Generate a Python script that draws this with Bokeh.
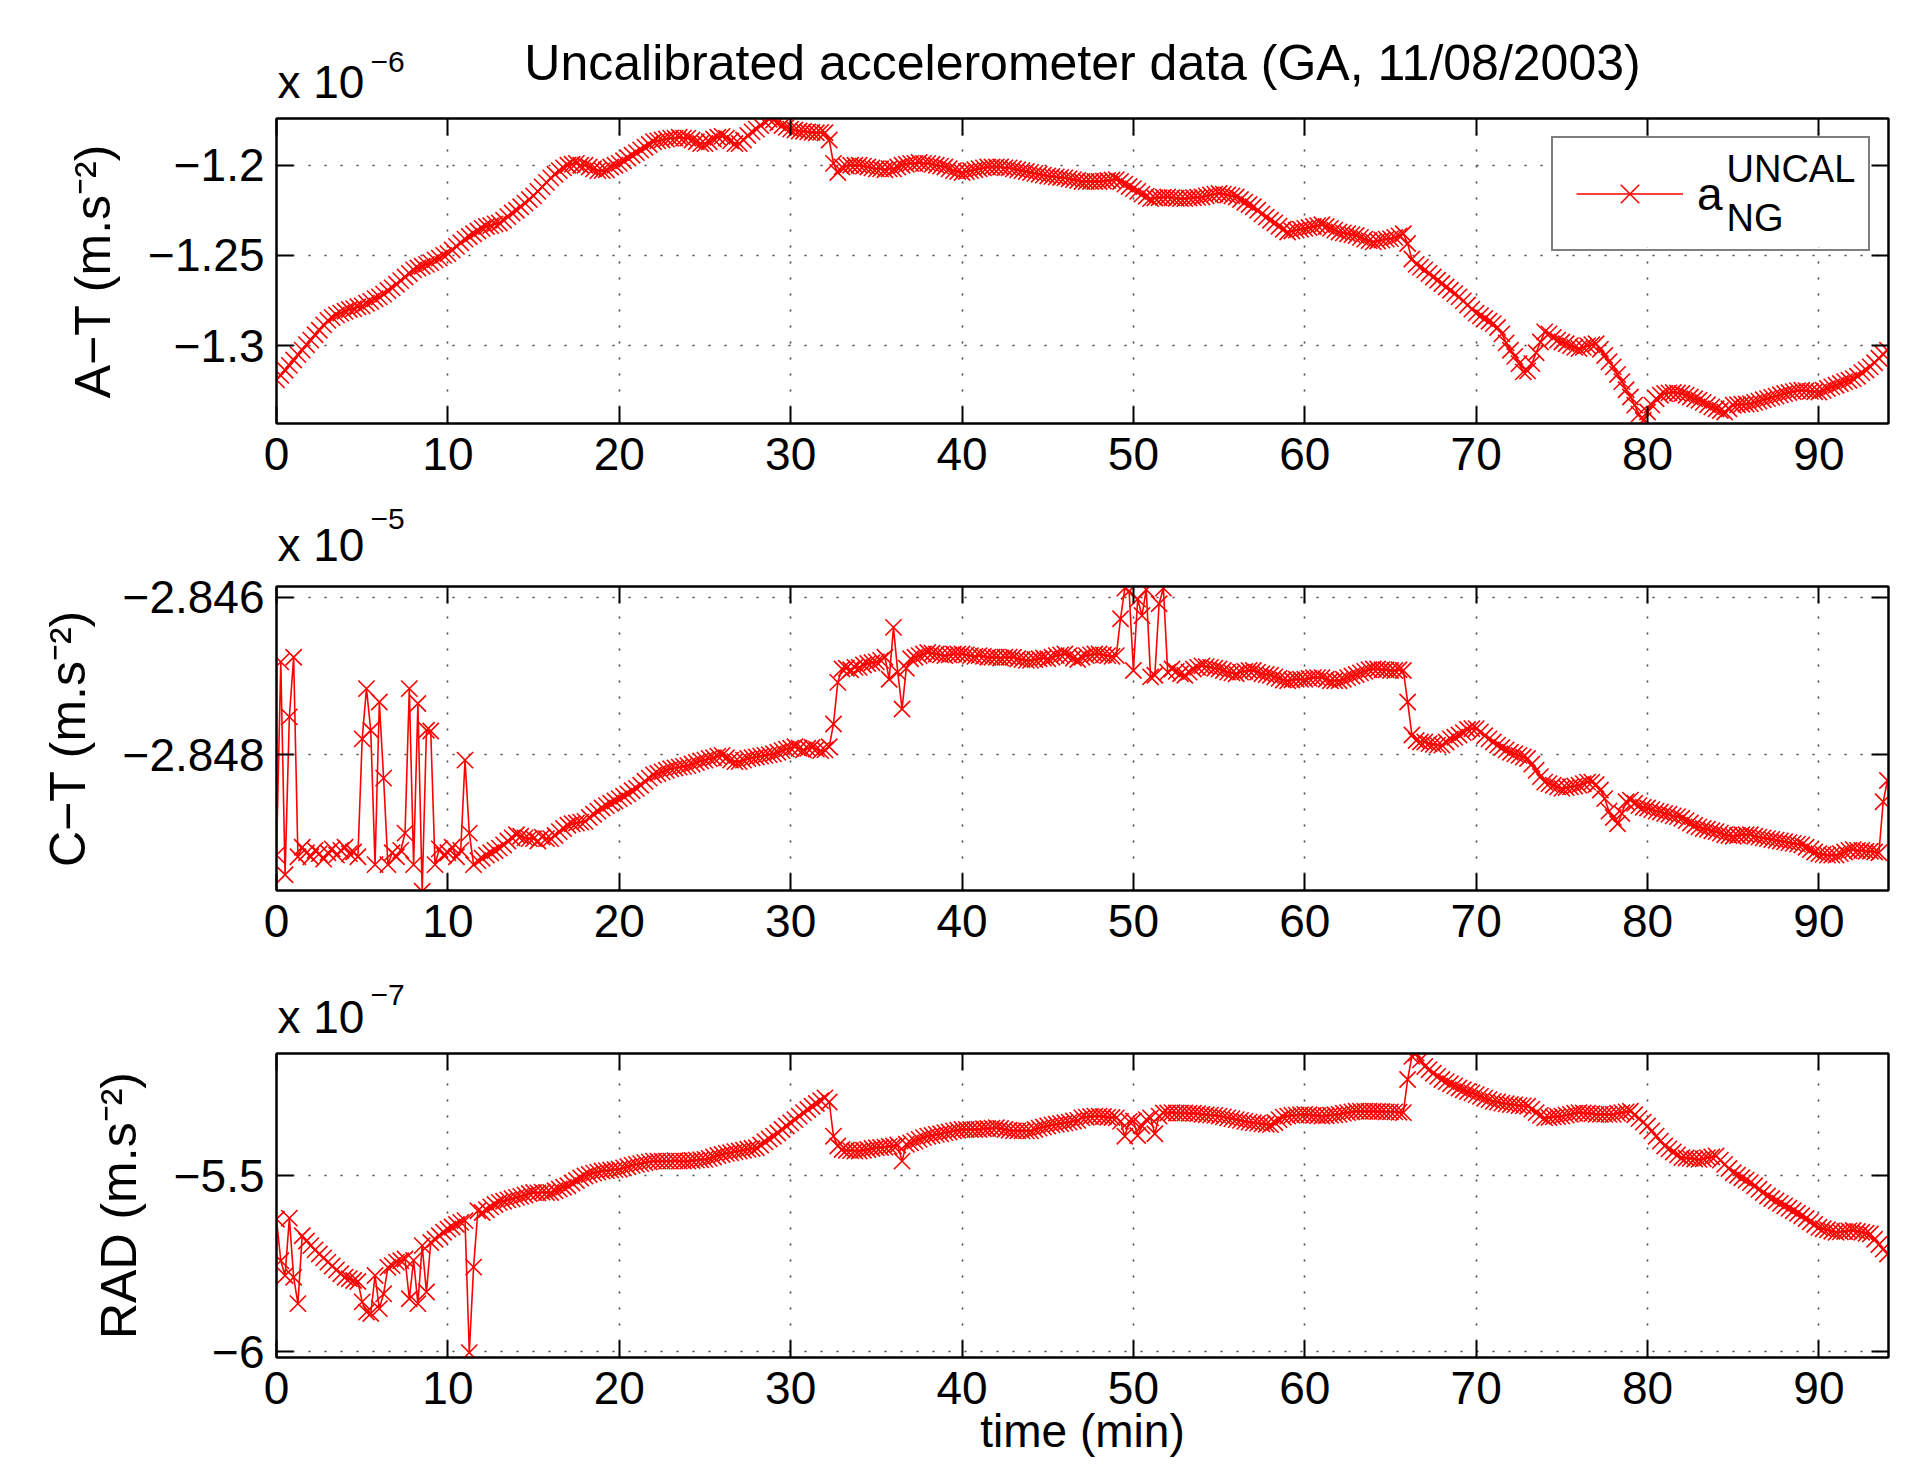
import numpy as np
from bokeh.plotting import figure
from bokeh.models import (Range1d, LinearAxis, FixedTicker, Legend, LegendItem,
                          CustomJSTickFormatter)
from bokeh.core.properties import value
from bokeh.layouts import column
from bokeh.embed import file_html
from bokeh.resources import INLINE

# ---------------- data ----------------
TITLE = "Uncalibrated accelerometer data (GA, 11/08/2003)"
STEP_MIN = 0.25          # sampling step of the series (minutes)
X_TICKS = [0, 10, 20, 30, 40, 50, 60, 70, 80, 90]
X_MAX = 94.06

# A-T, units of 1e-10 m/s^2, one row per minute (t = k, k+.25, k+.5, k+.75)
at_vals = [
    -13190, -13165, -13137, -13110,  # 0
    -13080, -13050, -13025, -12995,  # 1
    -12970, -12940, -12915, -12885,  # 2
    -12860, -12845, -12830, -12820,  # 3
    -12810, -12800, -12795, -12785,  # 4
    -12780, -12765, -12755, -12740,  # 5
    -12730, -12715, -12695, -12680,  # 6
    -12660, -12640, -12620, -12600,  # 7
    -12580, -12570, -12560, -12550,  # 8
    -12540, -12525, -12515, -12500,  # 9
    -12490, -12470, -12450, -12430,  # 10
    -12410, -12395, -12380, -12365,  # 11
    -12350, -12340, -12335, -12325,  # 12
    -12320, -12305, -12285, -12265,  # 13
    -12250, -12230, -12210, -12190,  # 14
    -12170, -12145, -12120, -12095,  # 15
    -12070, -12050, -12030, -12015,  # 16
    -12000, -11995, -11990, -12000,  # 17
    -12000, -12010, -12020, -12030,  # 18
    -12030, -12025, -12010, -12000,  # 19
    -11990, -11975, -11960, -11945,  # 20
    -11930, -11915, -11900, -11885,  # 21
    -11870, -11865, -11860, -11855,  # 22
    -11850, -11850, -11845, -11850,  # 23
    -11850, -11860, -11870, -11880,  # 24
    -11880, -11870, -11855, -11845,  # 25
    -11840, -11850, -11865, -11880,  # 26
    -11880, -11860, -11835, -11815,  # 27
    -11800, -11780, -11760, -11745,  # 28
    -11750, -11765, -11780, -11790,  # 29
    -11800, -11805, -11810, -11812,  # 30
    -11815, -11818, -11820, -11818,  # 31
    -11820, -11860, -11990, -12040,  # 32
    -12010, -12005, -12000, -12000,  # 33
    -12000, -12005, -12010, -12015,  # 34
    -12020, -12020, -12025, -12020,  # 35
    -12020, -12010, -12000, -11995,  # 36
    -11990, -11990, -11985, -11990,  # 37
    -11990, -11995, -12000, -12005,  # 38
    -12010, -12020, -12030, -12035,  # 39
    -12040, -12035, -12030, -12025,  # 40
    -12020, -12015, -12010, -12010,  # 41
    -12010, -12010, -12015, -12015,  # 42
    -12020, -12025, -12030, -12035,  # 43
    -12040, -12045, -12050, -12055,  # 44
    -12060, -12062, -12065, -12068,  # 45
    -12070, -12075, -12080, -12085,  # 46
    -12090, -12090, -12090, -12090,  # 47
    -12090, -12088, -12085, -12082,  # 48
    -12080, -12090, -12105, -12118,  # 49
    -12130, -12145, -12160, -12172,  # 50
    -12185, -12182, -12180, -12178,  # 51
    -12176, -12180, -12183, -12185,  # 52
    -12185, -12182, -12180, -12178,  # 53
    -12176, -12170, -12165, -12160,  # 54
    -12157, -12160, -12165, -12170,  # 55
    -12176, -12190, -12205, -12218,  # 56
    -12230, -12250, -12270, -12288,  # 57
    -12305, -12320, -12338, -12355,  # 58
    -12370, -12365, -12360, -12355,  # 59
    -12350, -12345, -12340, -12335,  # 60
    -12330, -12340, -12350, -12360,  # 61
    -12370, -12375, -12380, -12385,  # 62
    -12390, -12400, -12410, -12418,  # 63
    -12425, -12420, -12415, -12410,  # 64
    -12407, -12400, -12392, -12380,  # 65
    -12434, -12520, -12550, -12565,  # 66
    -12580, -12600, -12620, -12638,  # 67
    -12656, -12675, -12693, -12712,  # 68
    -12730, -12752, -12775, -12798,  # 69
    -12820, -12835, -12850, -12865,  # 70
    -12878, -12900, -12935, -12985,  # 71
    -13026, -13060, -13100, -13146,  # 72
    -13140, -13100, -13040, -12980,  # 73
    -12924, -12935, -12955, -12970,  # 74
    -12980, -12990, -13000, -13010,  # 75
    -13017, -13010, -13000, -12995,  # 76
    -12990, -13020, -13055, -13090,  # 77
    -13118, -13160, -13200, -13245,  # 78
    -13285, -13330, -13380, -13414,  # 79
    -13368, -13330, -13295, -13275,  # 80
    -13266, -13262, -13260, -13263,  # 81
    -13266, -13275, -13285, -13295,  # 82
    -13303, -13315, -13328, -13340,  # 83
    -13350, -13360, -13368, -13350,  # 84
    -13331, -13328, -13325, -13324,  # 85
    -13322, -13315, -13308, -13300,  # 86
    -13294, -13287, -13280, -13273,  # 87
    -13266, -13260, -13255, -13250,  # 88
    -13248, -13250, -13254, -13256,  # 89
    -13257, -13248, -13238, -13229,  # 90
    -13220, -13210, -13200, -13192,  # 91
    -13183, -13170, -13150, -13135,  # 92
    -13118, -13095, -13070, -13048,  # 93
    -13026,                          # 94
]

# C-T, units of 1e-10 m/s^2
ct_vals = [
    -284928, -284682, -284953, -284752,  # 0
    -284676, -284930, -284918, -284925,  # 1
    -284930, -284922, -284926, -284933,  # 2
    -284925, -284920, -284928, -284922,  # 3
    -284918, -284926, -284924, -284930,  # 4
    -284780, -284716, -284769, -284940,  # 5
    -284733, -284830, -284940, -284925,  # 6
    -284930, -284922, -284900, -284716,  # 7
    -284940, -284735, -284974, -284769,  # 8
    -284770, -284940, -284920, -284928,  # 9
    -284925, -284918, -284930, -284922,  # 10
    -284807, -284900, -284940, -284935,  # 11
    -284932, -284928, -284925, -284922,  # 12
    -284919, -284915, -284910, -284906,  # 13
    -284902, -284904, -284906, -284907,  # 14
    -284907, -284910, -284905, -284907,  # 15
    -284907, -284903, -284898, -284894,  # 16
    -284890, -284888, -284887, -284886,  # 17
    -284885, -284880, -284876, -284872,  # 18
    -284868, -284865, -284862, -284859,  # 19
    -284856, -284853, -284850, -284846,  # 20
    -284843, -284839, -284834, -284830,  # 21
    -284826, -284824, -284822, -284820,  # 22
    -284818, -284817, -284816, -284815,  # 23
    -284814, -284812, -284810, -284808,  # 24
    -284807, -284805, -284804, -284802,  # 25
    -284801, -284804, -284807, -284809,  # 26
    -284809, -284807, -284805, -284804,  # 27
    -284803, -284802, -284801, -284800,  # 28
    -284799, -284797, -284795, -284793,  # 29
    -284792, -284790, -284792, -284794,  # 30
    -284792, -284791, -284793, -284795,  # 31
    -284794, -284790, -284761, -284708,  # 32
    -284691, -284690, -284692, -284689,  # 33
    -284689, -284686, -284684, -284683,  # 34
    -284682, -284680, -284676, -284704,  # 35
    -284638, -284695, -284742, -284690,  # 36
    -284678, -284676, -284674, -284672,  # 37
    -284670, -284671, -284672, -284673,  # 38
    -284674, -284673, -284672, -284672,  # 39
    -284672, -284673, -284674, -284675,  # 40
    -284674, -284675, -284676, -284676,  # 41
    -284676, -284677, -284676, -284676,  # 42
    -284676, -284678, -284679, -284680,  # 43
    -284680, -284679, -284678, -284677,  # 44
    -284678, -284676, -284674, -284673,  # 45
    -284672, -284674, -284677, -284679,  # 46
    -284676, -284674, -284673, -284672,  # 47
    -284672, -284673, -284674, -284675,  # 48
    -284674, -284627, -284588, -284592,  # 49
    -284693, -284602, -284623, -284590,  # 50
    -284701, -284699, -284608, -284588,  # 51
    -284695, -284691, -284694, -284697,  # 52
    -284699, -284695, -284691, -284689,  # 53
    -284687, -284688, -284689, -284690,  # 54
    -284691, -284693, -284695, -284696,  # 55
    -284697, -284695, -284694, -284693,  # 56
    -284693, -284695, -284697, -284698,  # 57
    -284699, -284701, -284703, -284705,  # 58
    -284706, -284705, -284704, -284704,  # 59
    -284704, -284703, -284702, -284702,  # 60
    -284702, -284704, -284706, -284706,  # 61
    -284706, -284704, -284702, -284700,  # 62
    -284698, -284696, -284694, -284692,  # 63
    -284691, -284691, -284692, -284692,  # 64
    -284693, -284693, -284692, -284693,  # 65
    -284733, -284775, -284782, -284784,  # 66
    -284784, -284786, -284787, -284788,  # 67
    -284788, -284784, -284780, -284778,  # 68
    -284775, -284772, -284768, -284767,  # 69
    -284767, -284771, -284776, -284780,  # 70
    -284784, -284788, -284791, -284794,  # 71
    -284797, -284799, -284801, -284803,  # 72
    -284805, -284812, -284820, -284828,  # 73
    -284835, -284837, -284839, -284841,  # 74
    -284843, -284842, -284841, -284840,  # 75
    -284839, -284837, -284835, -284835,  # 76
    -284838, -284845, -284856, -284872,  # 77
    -284880, -284888, -284875, -284860,  # 78
    -284858, -284862, -284865, -284867,  # 79
    -284868, -284870, -284872, -284873,  # 80
    -284875, -284876, -284878, -284879,  # 81
    -284881, -284884, -284887, -284890,  # 82
    -284892, -284894, -284895, -284897,  # 83
    -284898, -284900, -284902, -284903,  # 84
    -284904, -284903, -284902, -284902,  # 85
    -284902, -284904, -284905, -284906,  # 86
    -284907, -284908, -284909, -284910,  # 87
    -284911, -284912, -284913, -284914,  # 88
    -284915, -284918, -284921, -284924,  # 89
    -284926, -284927, -284928, -284928,  # 90
    -284928, -284926, -284924, -284922,  # 91
    -284921, -284922, -284922, -284923,  # 92
    -284923, -284924, -284925, -284860,  # 93
    -284833,                             # 94
]

# RAD, units of 1e-10 m/s^2
rad_vals = [
    -5623, -5741, -5783, -5620,  # 0
    -5788, -5863, -5670, -5685,  # 1
    -5698, -5710, -5722, -5733,  # 2
    -5745, -5756, -5767, -5778,  # 3
    -5788, -5792, -5797, -5800,  # 4
    -5858, -5887, -5891, -5783,  # 5
    -5877, -5835, -5760, -5755,  # 6
    -5745, -5741, -5736, -5849,  # 7
    -5740, -5863, -5698, -5830,  # 8
    -5689, -5680, -5670, -5660,  # 9
    -5651, -5645, -5638, -5632,  # 10
    -5627, -6002, -5759, -5599,  # 11
    -5604, -5596, -5588, -5581,  # 12
    -5575, -5572, -5568, -5565,  # 13
    -5561, -5558, -5554, -5550,  # 14
    -5547, -5548, -5546, -5547,  # 15
    -5547, -5542, -5537, -5532,  # 16
    -5528, -5520, -5513, -5506,  # 17
    -5500, -5496, -5492, -5489,  # 18
    -5486, -5485, -5483, -5482,  # 19
    -5481, -5477, -5474, -5470,  # 20
    -5467, -5465, -5462, -5460,  # 21
    -5458, -5458, -5458, -5458,  # 22
    -5458, -5457, -5458, -5458,  # 23
    -5458, -5456, -5455, -5454,  # 24
    -5453, -5450, -5446, -5442,  # 25
    -5439, -5436, -5434, -5431,  # 26
    -5429, -5427, -5424, -5422,  # 27
    -5420, -5412, -5403, -5395,  # 28
    -5387, -5378, -5368, -5358,  # 29
    -5349, -5340, -5330, -5320,  # 30
    -5311, -5302, -5294, -5286,  # 31
    -5278, -5290, -5387, -5415,  # 32
    -5425, -5427, -5428, -5429,  # 33
    -5429, -5427, -5425, -5422,  # 34
    -5420, -5419, -5418, -5416,  # 35
    -5415, -5412, -5458, -5410,  # 36
    -5406, -5401, -5396, -5391,  # 37
    -5387, -5385, -5382, -5380,  # 38
    -5377, -5375, -5372, -5370,  # 39
    -5368, -5368, -5368, -5368,  # 40
    -5368, -5366, -5365, -5364,  # 41
    -5363, -5365, -5368, -5370,  # 42
    -5372, -5372, -5372, -5372,  # 43
    -5372, -5368, -5364, -5361,  # 44
    -5358, -5355, -5353, -5351,  # 45
    -5349, -5347, -5344, -5342,  # 46
    -5335, -5333, -5331, -5330,  # 47
    -5330, -5331, -5333, -5334,  # 48
    -5335, -5345, -5387, -5345,  # 49
    -5344, -5385, -5358, -5340,  # 50
    -5335, -5380, -5330, -5321,  # 51
    -5321, -5320, -5321, -5321,  # 52
    -5321, -5322, -5322, -5323,  # 53
    -5325, -5326, -5327, -5328,  # 54
    -5330, -5332, -5335, -5337,  # 55
    -5340, -5342, -5345, -5347,  # 56
    -5349, -5350, -5352, -5353,  # 57
    -5354, -5348, -5340, -5333,  # 58
    -5330, -5328, -5327, -5326,  # 59
    -5325, -5326, -5328, -5329,  # 60
    -5330, -5329, -5327, -5326,  # 61
    -5325, -5322, -5320, -5318,  # 62
    -5316, -5316, -5316, -5316,  # 63
    -5316, -5317, -5317, -5318,  # 64
    -5318, -5318, -5319, -5320,  # 65
    -5226, -5160, -5151, -5170,  # 66
    -5189, -5198, -5208, -5217,  # 67
    -5226, -5232, -5238, -5244,  # 68
    -5250, -5255, -5260, -5264,  # 69
    -5269, -5274, -5279, -5283,  # 70
    -5288, -5290, -5293, -5295,  # 71
    -5297, -5298, -5300, -5301,  # 72
    -5302, -5310, -5320, -5328,  # 73
    -5335, -5334, -5332, -5331,  # 74
    -5330, -5327, -5325, -5322,  # 75
    -5320, -5321, -5322, -5323,  # 76
    -5325, -5325, -5325, -5325,  # 77
    -5325, -5322, -5320, -5318,  # 78
    -5316, -5326, -5337, -5347,  # 79
    -5358, -5372, -5387, -5401,  # 80
    -5415, -5423, -5432, -5440,  # 81
    -5448, -5449, -5450, -5452,  # 82
    -5453, -5451, -5448, -5446,  # 83
    -5443, -5455, -5467, -5479,  # 84
    -5491, -5498, -5505, -5512,  # 85
    -5519, -5528, -5538, -5547,  # 86
    -5557, -5564, -5571, -5578,  # 87
    -5585, -5592, -5599, -5606,  # 88
    -5613, -5621, -5630, -5638,  # 89
    -5646, -5650, -5653, -5657,  # 90
    -5660, -5659, -5658, -5656,  # 91
    -5655, -5658, -5660, -5663,  # 92
    -5665, -5680, -5695, -5708,  # 93
    -5722,                       # 94
]

AT_TICKS = [-1.3, -1.25, -1.2]
CT_TICKS = [-2.848, -2.846]
RAD_TICKS = [-6.0, -5.5]

# ---------------- styling / layout ----------------
FONT = "Liberation Sans"
RED = "#ff0000"
TICK_FS = "46px"
PAGE_W = 1914
FRAME_L, FRAME_R = 276, 1888
FRAME_W = FRAME_R - FRAME_L
MID = 0.3465   # text glyphs are anchored at mid-height: baseline lies this many em below


def add_text(f, x, y, s, size, align="left"):
    """Place text so that its alphabetic baseline is at height y (pixel units)."""
    f.text(x=[x], y=[y + MID * size], text=[s], text_font=value(FONT),
           text_font_size="%dpx" % size, text_color="black", text_align=align,
           text_baseline="middle")


def header(h, base_main, base_sup, sup, title=None):
    """Strip above a panel holding the 'x 10^n' factor (and the main title).
    Its frame lines up with the panel frames; x is in page px, y in px from the strip bottom."""
    f = figure(width=PAGE_W, height=h, x_range=Range1d(FRAME_L, FRAME_R), y_range=Range1d(0, h),
               output_backend="svg", toolbar_location=None, title=None,
               min_border_left=FRAME_L, min_border_right=PAGE_W - FRAME_R,
               min_border_top=0, min_border_bottom=0, x_axis_type=None, y_axis_type=None)
    f.outline_line_color = None
    f.grid.visible = False
    f.background_fill_color = "white"
    f.border_fill_color = "white"
    add_text(f, FRAME_L + 1, base_main, "x 10", 46)
    add_text(f, 370, base_sup, sup, 30)
    if title is not None:
        add_text(f, (FRAME_L + FRAME_R) / 2, h - 80, title, 50, align="center")
    return f


def make_panel(values, divisor, yr, yticks, ylabel, height, top, bottom, xstandoff=14):
    t = np.arange(len(values)) * STEP_MIN
    y = np.array(values, dtype=float) / divisor
    p = figure(width=PAGE_W, height=height, x_range=Range1d(0, X_MAX), y_range=Range1d(*yr),
               output_backend="svg", toolbar_location=None, title=None,
               min_border_left=FRAME_L, min_border_right=PAGE_W - FRAME_R,
               min_border_top=top, min_border_bottom=bottom)
    p.outline_line_color = "black"
    p.outline_line_width = 2
    p.background_fill_color = "white"
    p.border_fill_color = "white"

    xt = FixedTicker(ticks=X_TICKS)
    yt = FixedTicker(ticks=yticks)
    yfmt = CustomJSTickFormatter(
        code="var s = String(Math.round(tick*10000)/10000); return s.replace('-', '\u2212');")
    blank = CustomJSTickFormatter(code="return '';")

    def style(ax):
        ax.axis_line_color = "black"
        ax.axis_line_width = 2
        ax.major_tick_line_color = "black"
        ax.major_tick_line_width = 2
        ax.major_tick_in = 17
        ax.major_tick_out = 0
        ax.minor_tick_line_color = None
        ax.major_label_text_font = FONT
        ax.major_label_text_font_size = TICK_FS
        ax.major_label_text_color = "black"

    xa = p.xaxis[0]
    style(xa)
    xa.ticker = xt
    xa.major_label_standoff = xstandoff
    ya = p.yaxis[0]
    style(ya)
    ya.ticker = yt
    ya.formatter = yfmt
    ya.major_label_standoff = 12
    ya.axis_label = ylabel
    ya.axis_label_text_font = FONT
    ya.axis_label_text_font_size = "50px"
    ya.axis_label_text_font_style = "normal"
    ya.axis_label_text_color = "black"
    ya.axis_label_standoff = 24

    top_ax = LinearAxis(ticker=xt, formatter=blank)
    style(top_ax)
    top_ax.major_label_standoff = 0
    p.add_layout(top_ax, "above")
    right_ax = LinearAxis(ticker=yt, formatter=blank)
    style(right_ax)
    right_ax.major_label_standoff = 0
    p.add_layout(right_ax, "right")

    for g, tk in ((p.xgrid[0], xt), (p.ygrid[0], yt)):
        g.ticker = tk
        g.grid_line_color = "#444444"
        g.grid_line_width = 1.6
        g.grid_line_dash = "2 14"

    r_line = p.line(t, y, line_color=RED, line_width=1.6)
    r_pts = p.scatter(t, y, marker="x", size=23, line_color=RED, line_width=1.6)
    return p, xa, r_line, r_pts


# page geometry (px from top): frames at 118-423, 586-890, 1053-1357
H1, R1 = 108, 392      # header 1 (0-108) / panel 1 (frame offset 10, frame 305, bottom 77)
H2, R2 = 70, 400       # header 2 (500-570) / panel 2 (16, 304, 80)
H3, R3 = 73, 429       # header 3 (970-1043) / panel 3 (10, 304, 115)
SUP2 = "m.s\u207b\u00b2"

p1, xa1, l1, s1 = make_panel(at_vals, 1e4, (-1.3432, -1.1741), AT_TICKS,
                             "A\u2212T (%s)" % SUP2, R1, 10, 77)
p2, xa2, l2, s2 = make_panel(ct_vals, 1e5, (-2.84973, -2.84586), CT_TICKS,
                             "C\u2212T (%s)" % SUP2, R2, 16, 80)
p3, xa3, l3, s3 = make_panel(rad_vals, 1e3, (-6.016, -5.152), RAD_TICKS,
                             "RAD (%s)" % SUP2, R3, 10, 115)

xa3.axis_label = "time (min)"
xa3.axis_label_text_font = FONT
xa3.axis_label_text_font_size = "46px"
xa3.axis_label_text_font_style = "normal"
xa3.axis_label_text_color = "black"
xa3.axis_label_standoff = -2

# legend (glyph sample + "a"), with the super/subscripts added as text
leg = Legend(items=[LegendItem(label="a", renderers=[l1, s1])], location="top_right",
             margin=18, padding=23, spacing=0, label_standoff=14,
             glyph_width=107, glyph_height=65, label_width=148, label_height=65,
             border_line_color="black", border_line_width=2,
             background_fill_alpha=0.0,
             label_text_font=FONT, label_text_font_size="46px", label_text_color="black")
p1.add_layout(leg)

Y1MIN, Y1MAX = -1.3432, -1.1741
FRAME1_TOP, FRAME1_H = 118, 305


def px2x(px):
    return X_MAX * (px - FRAME_L) / FRAME_W


def py2y(py):
    return Y1MAX - (py - FRAME1_TOP) / FRAME1_H * (Y1MAX - Y1MIN)


p1.quad(left=[px2x(1555)], right=[px2x(1870)], top=[py2y(136)], bottom=[py2y(247)],
        fill_color="white", line_color=None)
for txt, base_py in (("UNCAL", 182), ("NG", 231)):
    p1.text(x=[px2x(1726)], y=[py2y(base_py - MID * 38)], text=[txt],
            text_font=value(FONT), text_font_size="38px", text_color="black",
            text_align="left", text_baseline="middle")

hdr1 = header(H1, 11, 36, "\u22126", TITLE)
hdr2 = header(H2, 10, 41, "\u22125")
hdr3 = header(H3, 11, 38, "\u22127")

layout = column(hdr1, p1, hdr2, p2, hdr3, p3, spacing=0)
open("out.html", "w").write(file_html(layout, INLINE, title="Uncalibrated accelerometer data"))
